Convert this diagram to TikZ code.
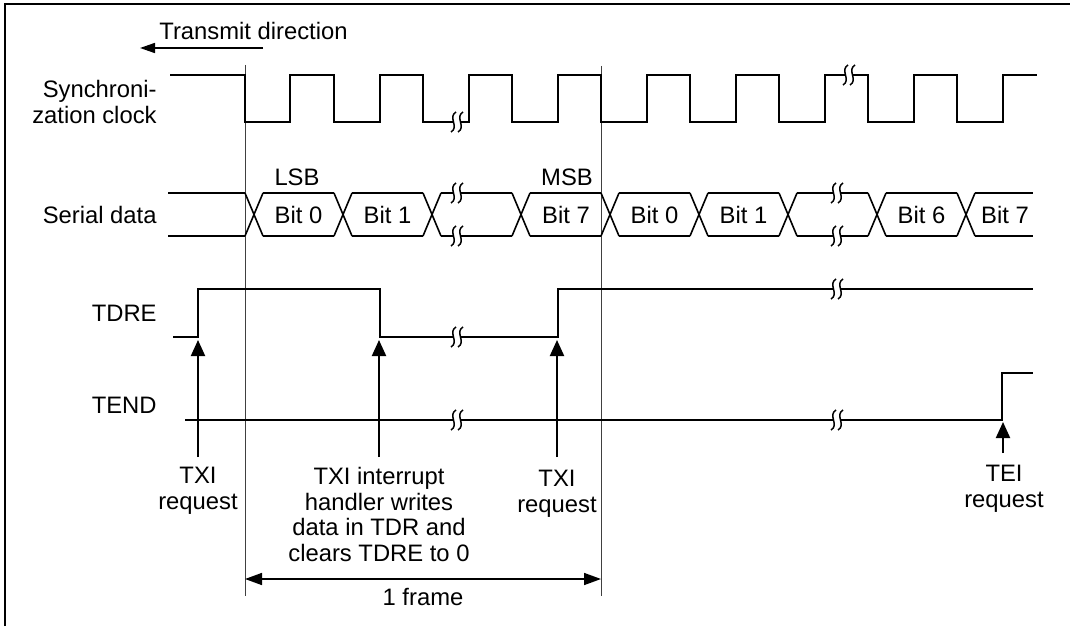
\documentclass[tikz,border=0pt]{standalone}
\usepackage{fontspec}
\setmainfont{Liberation Sans}
\usetikzlibrary{arrows.meta, positioning, calc}

% wave break mark on a signal line, at (x,y) in pixels
\newcommand{\sigbreak}[2]{%
  \fill[white] (#1-3.5,#2-3) rectangle (#1+3.5,#2+3);
  \foreach \d in {-3.5,3.5}
    \draw[line width=0.75pt] (#1+\d+2.5,#2-10) .. controls (#1+\d-6,#2-5) and (#1+\d+6,#2+5) .. (#1+\d-2.5,#2+10);
}

\begin{document}
\begin{tikzpicture}[x=0.5pt, y=-0.5pt, font=\fontsize{11.9}{12.8}\selectfont]
  \tikzstyle{sig} = [line width=1pt]
  \tikzstyle{dat} = [line width=0.8pt]
  \tikzstyle{guide} = [line width=0.5pt, black!75]
  \tikzstyle{lbl} = [inner sep=0pt, align=center]
  \tikzstyle{req} = [line width=1pt, -{Triangle[length=8pt,width=7pt]}]

  \useasboundingbox (0,0) rectangle (1070,626);
  \draw[line width=1.3pt] (5,626) -- (5,4) -- (1070,4);

  % signal names
  \node[lbl, align=right, anchor=north east] (clkName) at (157,80) {Synchroni-\\zation clock};
  \node[lbl, anchor=base east] (datName) at (157,223) {Serial data};
  \node[lbl, anchor=base east] (tdreName) at (157,321) {TDRE};
  \node[lbl, anchor=base east] (tendName) at (157,413) {TEND};

  % transmit direction
  \node[lbl, anchor=base west] (dirLbl) at (159,40) {Transmit direction};
  \coordinate (dirTail) at (263,48);
  \coordinate (dirHead) at (140,48);
  \draw[line width=0.8pt, -{Triangle[length=7.5pt,width=5pt]}] (dirTail) -- (dirHead);

  % frame guides
  \coordinate (frameTopL) at (245,65);
  \coordinate (frameTopR) at (601,66);
  \coordinate (frameBotL) at (245,596);
  \coordinate (frameBotR) at (601,596);
  \draw[guide] (frameTopL) -- (frameBotL);
  \draw[guide] (frameTopR) -- (frameBotR);

  % synchronization clock
  \draw[sig] (170,75) -- (245,75) -- (245,122) -- (290,122) -- (290,75) -- (334,75) -- (334,122)
    -- (380,122) -- (380,75) -- (423,75) -- (423,122) -- (469,122) -- (469,75) -- (512,75)
    -- (512,122) -- (558,122) -- (558,75) -- (601,75) -- (601,122) -- (647,122) -- (647,75)
    -- (690,75) -- (690,122) -- (736,122) -- (736,75) -- (779,75) -- (779,122) -- (825,122)
    -- (825,75) -- (868,75) -- (868,122) -- (914,122) -- (914,75) -- (957,75) -- (957,122)
    -- (1003,122) -- (1003,75) -- (1037,75);

  % serial data
  \foreach \e in {245,334,423,512,601,690,779,868,957}
    \draw[dat] (\e,193) -- (\e+18,236) (\e,236) -- (\e+18,193);
  \foreach \a/\b in {168/245, 263/334, 352/423, 441/512, 530/601, 619/690, 708/779, 797/868, 886/957, 975/1033}
    \draw[dat] (\a,193) -- (\b,193) (\a,236) -- (\b,236);
  \foreach \x/\t [count=\i] in {298.5/Bit 0, 387.5/Bit 1, 566/Bit 7, 654.5/Bit 0, 743.5/Bit 1, 921.5/Bit 6, 1005/Bit 7}
    \node[lbl, anchor=base] (bit\i) at (\x,223) {\t};
  \node[lbl, anchor=base] (lsb) at (297,185) {LSB};
  \node[lbl, anchor=base] (msb) at (567,185) {MSB};

  % TDRE and TEND
  \draw[sig] (173,337) -- (198,337) -- (198,289) -- (380,289) -- (380,337) -- (558,337)
    -- (558,289) -- (1033,289);
  \draw[sig] (185,420) -- (1002,420) -- (1002,373) -- (1033,373);

  % breaks
  \sigbreak{457}{122}
  \sigbreak{849}{75}
  \sigbreak{457}{193}
  \sigbreak{457}{236}
  \sigbreak{837}{193}
  \sigbreak{837}{236}
  \sigbreak{457}{337}
  \sigbreak{837}{289}
  \sigbreak{457}{420}
  \sigbreak{837}{420}

  % requests
  \node[lbl, anchor=north] (txiA) at (198,467) {TXI\\request};
  \node[lbl, anchor=north] (txiHandler) at (379,467) {TXI interrupt\\handler writes\\data in TDR and\\clears TDRE to 0};
  \node[lbl, anchor=north] (txiB) at (557,470) {TXI\\request};
  \node[lbl, anchor=north] (tei) at (1004,465) {TEI\\request};

  \coordinate (txiAFoot) at (198,457);
  \coordinate (txiATip) at (198,340);
  \coordinate (hdlFoot) at (379,457);
  \coordinate (hdlTip) at (379,340);
  \coordinate (txiBFoot) at (557,457);
  \coordinate (txiBTip) at (557,340);
  \coordinate (teiFoot) at (1003,453);
  \coordinate (teiTip) at (1003,422);
  \draw[req] (txiAFoot) -- (txiATip);
  \draw[req] (hdlFoot) -- (hdlTip);
  \draw[req] (txiBFoot) -- (txiBTip);
  \draw[req] (teiFoot) -- (teiTip);

  % one frame
  \coordinate (frameL) at (245,579);
  \coordinate (frameR) at (601,579);
  \draw[line width=0.8pt, {Triangle[length=8.5pt,width=6pt]}-{Triangle[length=8.5pt,width=6pt]}] (frameL) -- (frameR);
  \node[lbl, anchor=base] (frameLbl) at (423,605) {1 frame};
\end{tikzpicture}
\end{document}
